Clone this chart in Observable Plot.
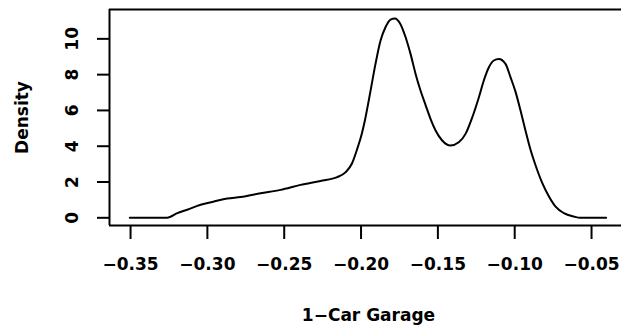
<!DOCTYPE html>
<html>
<head>
<meta charset="utf-8">
<script src="https://cdn.jsdelivr.net/npm/d3@7"></script>
<script src="https://cdn.jsdelivr.net/npm/@observablehq/plot@0.6"></script>
<style>
  html, body { margin: 0; padding: 0; background: white; }
  svg { display: block; }
</style>
</head>
<body>
<div id="chart"></div>
<script>
// Density curve
const densX = [-0.3505, -0.3261, -0.3196, -0.3131, -0.3044, -0.2957, -0.2871, -0.2784, -0.2654, -0.2524,
  -0.2394, -0.2264, -0.2155, -0.2100, -0.2060, -0.2025, -0.1995, -0.1975, -0.1938, -0.1906,
  -0.1873, -0.1841, -0.1808, -0.1780, -0.1745, -0.1710, -0.1678, -0.1645, -0.1613, -0.1580,
  -0.1548, -0.1515, -0.1472, -0.1418, -0.1364, -0.1320, -0.1276, -0.1233, -0.1201, -0.1168,
  -0.1136, -0.1103, -0.1060, -0.1027, -0.0995, -0.0962, -0.0930, -0.0897, -0.0865, -0.0821,
  -0.0778, -0.0734, -0.0680, -0.0615, -0.0572, -0.0405];
const densY = [0, 0, 0.26, 0.45, 0.73, 0.91, 1.08, 1.16, 1.37, 1.56,
  1.84, 2.06, 2.27, 2.55, 3.02, 3.85, 4.70, 5.44, 7.11, 8.60,
  9.91, 10.65, 11.08, 11.14, 10.85, 10.09, 9.16, 8.04, 7.11, 6.30,
  5.53, 4.88, 4.32, 4.04, 4.22, 4.69, 5.62, 6.74, 7.67, 8.41,
  8.79, 8.88, 8.60, 7.85, 7.05, 5.99, 4.88, 3.80, 2.95, 1.95,
  1.20, 0.62, 0.26, 0.07, 0.0, 0.0];

const xTicks = [-0.35, -0.30, -0.25, -0.20, -0.15, -0.10, -0.05];
const xTickLabels = ["\u22120.35", "\u22120.30", "\u22120.25", "\u22120.20", "\u22120.15", "\u22120.10", "\u22120.05"];
const yTicks = [0, 2, 4, 6, 8, 10];
const yTickLabels = ["0", "2", "4", "6", "8", "10"];
const xTitle = ["1\u2212Car Garage"];
const yTitle = ["Density"];

const xDomain = [-0.3637, -0.0305];
const yDomain = [-0.43, 11.64];

const curve = densX.map((x, i) => ({x, y: densY[i]}));

const chart = Plot.plot({
  width: 621,
  height: 332,
  marginLeft: 109,
  marginRight: 0,
  marginTop: 9,
  marginBottom: 107,
  x: {domain: xDomain},
  y: {domain: yDomain},
  style: {
    fontFamily: "DejaVu Sans",
    fontWeight: "bold",
    fontSize: "17px",
    background: "white",
    color: "black"
  },
  marks: [
    Plot.ruleY([yDomain[0], yDomain[1]], {stroke: "black", strokeWidth: 2}),
    Plot.ruleX([xDomain[0]], {stroke: "black", strokeWidth: 2}),
    Plot.axisX(xTicks, {
      tickSize: 14,
      tickPadding: 18.5,
      strokeWidth: 2,
      tickFormat: d => xTickLabels[xTicks.indexOf(d)],
      label: null,
      fontSize: 17
    }),
    Plot.axisY(yTicks, {
      tickSize: 12,
      strokeWidth: 2,
      tickFormat: () => "",
      label: null
    }),
    Plot.text(yTicks, {
      y: d => d,
      text: (d, i) => yTickLabels[i],
      frameAnchor: "left",
      dx: -37,
      rotate: -90,
      textAnchor: "middle",
      lineAnchor: "middle",
      fontSize: 17
    }),
    Plot.text(yTitle, {
      text: d => d,
      frameAnchor: "left",
      dx: -86.5,
      rotate: -90,
      textAnchor: "middle",
      lineAnchor: "middle",
      fontSize: 17
    }),
    Plot.text(xTitle, {
      text: d => d,
      frameAnchor: "bottom",
      dx: 3,
      dy: 90,
      textAnchor: "middle",
      lineAnchor: "middle",
      fontSize: 17
    }),
    Plot.line(curve, {x: "x", y: "y", stroke: "black", strokeWidth: 2, curve: "monotone-x"})
  ]
});

document.getElementById("chart").appendChild(chart);
</script>
</body>
</html>
